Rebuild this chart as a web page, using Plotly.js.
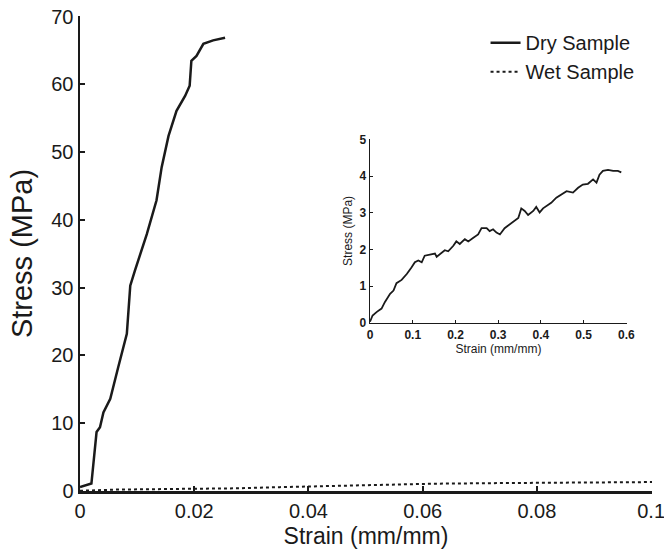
<!DOCTYPE html>
<html>
<head>
<meta charset="utf-8">
<script src="https://cdn.plot.ly/plotly-3.0.1.min.js"></script>
<style>html,body{margin:0;padding:0;background:#fff;}#chart{width:664px;height:551px;}</style>
</head>
<body>
<div id="chart"></div>
<script>
// Dry sample (main plot)
const dryStrain = [0, 0.0020, 0.0029, 0.0035, 0.0041, 0.0053, 0.0067, 0.0082, 0.0088, 0.0092, 0.0096, 0.0117, 0.0134, 0.0143, 0.0155, 0.0169, 0.0184, 0.0192, 0.0195, 0.0204, 0.0216, 0.0233, 0.0254];
const dryStress = [0.6, 1.1, 8.7, 9.4, 11.6, 13.6, 18.3, 23.2, 30.3, 31.5, 32.5, 37.9, 42.9, 47.8, 52.4, 56.1, 58.3, 59.8, 63.5, 64.2, 66.0, 66.5, 66.9];

// Wet sample (main plot, clipped by axis range, and inset)
const wetStrain = [0, 0.006, 0.016, 0.027, 0.035, 0.047, 0.055, 0.062, 0.074, 0.086, 0.097, 0.105, 0.113, 0.121, 0.128, 0.140, 0.152, 0.156, 0.167, 0.175, 0.183, 0.195, 0.202, 0.210, 0.222, 0.230, 0.241, 0.253, 0.261, 0.273, 0.280, 0.288, 0.296, 0.304, 0.315, 0.327, 0.339, 0.347, 0.354, 0.362, 0.370, 0.382, 0.389, 0.397, 0.405, 0.413, 0.424, 0.436, 0.448, 0.460, 0.475, 0.487, 0.498, 0.510, 0.522, 0.530, 0.537, 0.545, 0.557, 0.569, 0.580, 0.588];
const wetStress = [0.03, 0.20, 0.30, 0.39, 0.57, 0.79, 0.88, 1.08, 1.17, 1.33, 1.51, 1.65, 1.70, 1.65, 1.83, 1.87, 1.89, 1.80, 1.92, 1.98, 1.95, 2.10, 2.22, 2.15, 2.28, 2.22, 2.31, 2.41, 2.58, 2.58, 2.50, 2.55, 2.46, 2.41, 2.58, 2.68, 2.77, 2.86, 3.12, 3.05, 2.94, 3.05, 3.16, 3.01, 3.12, 3.18, 3.27, 3.41, 3.50, 3.59, 3.55, 3.68, 3.77, 3.79, 3.91, 3.82, 4.04, 4.14, 4.17, 4.14, 4.14, 4.10];

const mainXTicks = [0, 0.02, 0.04, 0.06, 0.08, 0.1];
const mainXLabels = ['0', '0.02', '0.04', '0.06', '0.08', '0.1'];
const mainYTicks = [0, 10, 20, 30, 40, 50, 60, 70];
const insetXTicks = [0, 0.1, 0.2, 0.3, 0.4, 0.5, 0.6];
const insetXLabels = ['0', '0.1', '0.2', '0.3', '0.4', '0.5', '0.6'];
const insetYTicks = [0, 1, 2, 3, 4, 5];

const FONT = 'Liberation Sans, Arial, Helvetica, sans-serif';
const INK = '#1a1a1a';

const traces = [
  {x: dryStrain, y: dryStress, type: 'scatter', mode: 'lines', name: 'Dry Sample',
   line: {color: INK, width: 2.5}, xaxis: 'x', yaxis: 'y'},
  {x: wetStrain, y: wetStress, type: 'scatter', mode: 'lines', name: 'Wet Sample',
   line: {color: INK, width: 2, dash: 'dot'}, xaxis: 'x', yaxis: 'y'},
  {x: wetStrain, y: wetStress, type: 'scatter', mode: 'lines', name: 'Wet Sample (inset)',
   line: {color: INK, width: 1.8}, xaxis: 'x2', yaxis: 'y2', showlegend: false}
];

const layout = {
  width: 664, height: 551,
  margin: {l: 80, r: 12, t: 16, b: 60},
  paper_bgcolor: '#fff', plot_bgcolor: 'rgba(0,0,0,0)',
  font: {family: FONT, color: INK},
  showlegend: true,
  legend: {x: 0.709, y: 0.985, xanchor: 'left', yanchor: 'top', bgcolor: 'rgba(0,0,0,0)',
           font: {size: 20, family: FONT, color: INK}, tracegroupgap: 0, itemwidth: 30},
  xaxis: {domain: [0, 1], range: [0, 0.10015], tickvals: mainXTicks, ticktext: mainXLabels,
          showline: true, linewidth: 2.5, linecolor: INK, ticks: 'inside', ticklen: 5, tickwidth: 2,
          tickcolor: INK, showgrid: false, zeroline: false, mirror: false, ticklabeloverflow: 'allow',
          tickfont: {size: 20, family: FONT, color: INK},
          title: {text: 'Strain (mm/mm)', font: {size: 23, family: FONT, color: INK}, standoff: 8}},
  yaxis: {domain: [0, 1], range: [0, 70.1], tickvals: mainYTicks,
          showline: true, linewidth: 2.5, linecolor: INK, ticks: 'inside', ticklen: 5, tickwidth: 2,
          tickcolor: INK, showgrid: false, zeroline: false, ticklabeloverflow: 'allow',
          tickfont: {size: 20, family: FONT, color: INK},
          title: {text: 'Stress (MPa)', font: {size: 29, family: FONT, color: INK}, standoff: 10}},
  xaxis2: {domain: [0.507, 0.956], anchor: 'y2', range: [0, 0.601], tickvals: insetXTicks, ticktext: insetXLabels,
           showline: true, linewidth: 1.5, linecolor: INK, ticks: 'inside', ticklen: 3, tickwidth: 1,
           tickcolor: INK, showgrid: false, zeroline: false,
           tickfont: {size: 12, family: FONT, color: INK, weight: 'bold'},
           title: {text: 'Strain (mm/mm)', font: {size: 12, family: FONT, color: INK}, standoff: 2}},
  yaxis2: {domain: [0.354, 0.741], anchor: 'x2', range: [0, 5.01], tickvals: insetYTicks,
           showline: true, linewidth: 1.5, linecolor: INK, ticks: 'inside', ticklen: 3, tickwidth: 1,
           tickcolor: INK, showgrid: false, zeroline: false,
           tickfont: {size: 12, family: FONT, color: INK, weight: 'bold'},
           title: {text: 'Stress (MPa)', font: {size: 12, family: FONT, color: INK}, standoff: 4}}
};

Plotly.newPlot('chart', traces, layout, {displayModeBar: false, staticPlot: true});
</script>
</body>
</html>
